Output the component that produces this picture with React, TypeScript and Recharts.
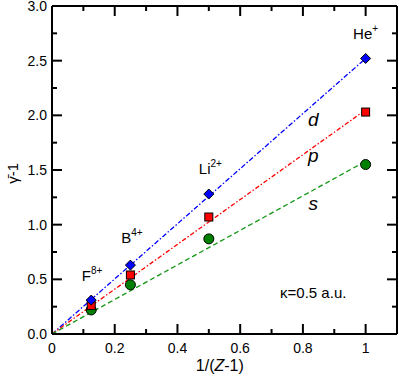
import { ComposedChart, Line, Scatter, XAxis, YAxis } from "recharts"

// 1/(Z-1) for F8+, B4+, Li2+, He+
const invZ = [0.125, 0.25, 0.5, 1]
const dValues = [0.31, 0.63, 1.28, 2.52]
const pValues = [0.26, 0.54, 1.07, 2.03]
const sValues = [0.22, 0.45, 0.87, 1.55]

// straight fits through the origin
const fitX = [0, 1]
const dFit = [0, 2.52]
const pFit = [0, 2.05]
const sFit = [0, 1.58]

const xMajorTicks = [0, 0.2, 0.4, 0.6, 0.8, 1]
const xMinorTicks = [0.1, 0.3, 0.5, 0.7, 0.9]
const yMajorTicks = [0, 0.5, 1, 1.5, 2, 2.5, 3]
const yMinorTicks = [0.25, 0.75, 1.25, 1.75, 2.25, 2.75]
const xTickLabels = ["0", "0.2", "0.4", "0.6", "0.8", "1"]

const ionNames = ["He", "Li", "B", "F"]
const ionCharges = ["+", "2+", "4+", "8+"]
const ionLabelX = [1.0, 0.505, 0.255, 0.128]
const ionLabelY = [2.7, 1.46, 0.835, 0.487]

const waveNames = ["d", "p", "s"]
const waveLabelX = [0.833, 0.833, 0.833]
const waveLabelY = [1.9, 1.57, 1.13]

const toPoints = (xs: number[], ys: number[]) => xs.map((x, i) => ({ x, y: ys[i] }))

const dData = toPoints(invZ, dValues)
const pData = toPoints(invZ, pValues)
const sData = toPoints(invZ, sValues)
const dLine = toPoints(fitX, dFit)
const pLine = toPoints(fitX, pFit)
const sLine = toPoints(fitX, sFit)
const ionData = ionNames.map((name, i) => ({ x: ionLabelX[i], y: ionLabelY[i], name, charge: ionCharges[i] }))
const waveData = waveNames.map((name, i) => ({ x: waveLabelX[i], y: waveLabelY[i], name }))
const kappaData = [{ x: 0.833, y: 0.333 }]
const xTitleData = [{ x: 0.535, y: 0 }]
const yTitleData = [{ x: 0, y: 1.47 }]

const FONT = "'Liberation Sans', Arial, Helvetica, sans-serif"

const isMajor = (v: number, list: number[]) => list.some((t) => Math.abs(t - v) < 1e-9)

function BottomTick(props: any) {
  const { x, y, payload } = props
  const major = isMajor(payload.value, xMajorTicks)
  const idx = xMajorTicks.findIndex((t) => Math.abs(t - payload.value) < 1e-9)
  return (
    <g>
      <line x1={x} x2={x} y1={y} y2={y - (major ? 10 : 5)} stroke="black" strokeWidth={2} />
      {major && (
        <text x={x} y={y + 19} textAnchor="middle" fontFamily={FONT} fontSize={14} fill="black">
          {xTickLabels[idx]}
        </text>
      )}
    </g>
  )
}

function TopTick(props: any) {
  const { x, y, payload } = props
  const major = isMajor(payload.value, xMajorTicks)
  return (
    <g>
      <line x1={x} x2={x} y1={y} y2={y + (major ? 10 : 5)} stroke="black" strokeWidth={2} />
    </g>
  )
}

function LeftTick(props: any) {
  const { x, y, payload } = props
  const major = isMajor(payload.value, yMajorTicks)
  return (
    <g>
      <line x1={x} x2={x + (major ? 10 : 5)} y1={y} y2={y} stroke="black" strokeWidth={2} />
      {major && (
        <text x={x - 5} y={y + 5} textAnchor="end" fontFamily={FONT} fontSize={14} fill="black">
          {payload.value.toFixed(1)}
        </text>
      )}
    </g>
  )
}

function RightTick(props: any) {
  const { x, y, payload } = props
  const major = isMajor(payload.value, yMajorTicks)
  return (
    <g>
      <line x1={x} x2={x - (major ? 10 : 5)} y1={y} y2={y} stroke="black" strokeWidth={2} />
    </g>
  )
}

function Diamond(props: any) {
  const { cx, cy } = props
  const h = 5
  return (
    <polygon
      points={`${cx},${cy - h} ${cx + h},${cy} ${cx},${cy + h} ${cx - h},${cy}`}
      fill="#0000ff"
      stroke="#000"
      strokeWidth={1}
    />
  )
}

function Square(props: any) {
  const { cx, cy } = props
  return <rect x={cx - 4} y={cy - 4} width={8} height={8} fill="#ff0000" stroke="#000" strokeWidth={1} />
}

function Dot(props: any) {
  const { cx, cy } = props
  return <circle cx={cx} cy={cy} r={5} fill="#008000" stroke="#000" strokeWidth={1} />
}

function IonLabel(props: any) {
  const { cx, cy, payload } = props
  return (
    <text x={cx} y={cy} textAnchor="middle" fontFamily={FONT} fontSize={15} fill="black">
      {payload.name}
      <tspan fontSize={10} dy={-7}>
        {payload.charge}
      </tspan>
    </text>
  )
}

function WaveLabel(props: any) {
  const { cx, cy, payload } = props
  return (
    <text x={cx} y={cy} textAnchor="middle" fontFamily={FONT} fontSize={19} fontStyle="italic" fill="black">
      {payload.name}
    </text>
  )
}

function KappaLabel(props: any) {
  const { cx, cy } = props
  return (
    <text x={cx} y={cy} textAnchor="middle" fontFamily={FONT} fontSize={15} fill="black">
      κ=0.5 a.u.
    </text>
  )
}

function XTitle(props: any) {
  const { cx, cy } = props
  return (
    <text x={cx} y={cy + 37} textAnchor="middle" fontFamily={FONT} fontSize={16} fill="black">
      1/(<tspan fontStyle="italic">Z</tspan>-1)
    </text>
  )
}

function YTitle(props: any) {
  const { cx, cy } = props
  const tx = cx - 34
  return (
    <text x={tx} y={cy} textAnchor="middle" transform={`rotate(-90 ${tx} ${cy})`} fontFamily={FONT} fontSize={15} fill="black">
      {"\u03B3\u0304-1"}
    </text>
  )
}

export default function App() {
  return (
    <div style={{ position: "absolute", left: 0, top: 0, background: "#fff" }}>
      <ComposedChart width={399} height={378} margin={{ top: 5, right: 1, left: 0, bottom: 0 }}>
        <XAxis xAxisId="b" type="number" dataKey="x" domain={[0, 1.1]} ticks={[...xMajorTicks, ...xMinorTicks]} interval={0} height={44} tickSize={0} tickMargin={0} tickLine={false} tick={<BottomTick />} axisLine={{ stroke: "black", strokeWidth: 2 }} />
        <XAxis xAxisId="t" orientation="top" type="number" dataKey="x" domain={[0, 1.1]} allowDataOverflow ticks={[...xMajorTicks, ...xMinorTicks]} interval={0} height={1} tickSize={0} tickMargin={0} tickLine={false} tick={<TopTick />} axisLine={{ stroke: "black", strokeWidth: 2 }} />
        <YAxis yAxisId="l" type="number" dataKey="y" domain={[0, 3]} ticks={[...yMajorTicks, ...yMinorTicks]} interval={0} width={52} tickSize={0} tickMargin={0} tickLine={false} tick={<LeftTick />} axisLine={{ stroke: "black", strokeWidth: 2 }} />
        <YAxis yAxisId="r" orientation="right" type="number" dataKey="y" domain={[0, 3]} allowDataOverflow ticks={[...yMajorTicks, ...yMinorTicks]} interval={0} width={1} tickSize={0} tickMargin={0} tickLine={false} tick={<RightTick />} axisLine={{ stroke: "black", strokeWidth: 2 }} />

        <Line xAxisId="b" yAxisId="l" data={dLine} dataKey="y" type="linear" stroke="#0000ff" strokeWidth={1.3} strokeDasharray="5 2 1.5 2" dot={false} activeDot={false} isAnimationActive={false} />
        <Line xAxisId="b" yAxisId="l" data={pLine} dataKey="y" type="linear" stroke="#ff0000" strokeWidth={1.3} strokeDasharray="4.5 2 1.5 2" dot={false} activeDot={false} isAnimationActive={false} />
        <Line xAxisId="b" yAxisId="l" data={sLine} dataKey="y" type="linear" stroke="#129612" strokeWidth={1.3} strokeDasharray="5 3" dot={false} activeDot={false} isAnimationActive={false} />

        <Scatter xAxisId="b" yAxisId="l" data={sData} dataKey="y" shape={<Dot />} isAnimationActive={false} />
        <Scatter xAxisId="b" yAxisId="l" data={pData} dataKey="y" shape={<Square />} isAnimationActive={false} />
        <Scatter xAxisId="b" yAxisId="l" data={dData} dataKey="y" shape={<Diamond />} isAnimationActive={false} />

        <Scatter xAxisId="t" yAxisId="r" data={ionData} dataKey="y" shape={<IonLabel />} isAnimationActive={false} />
        <Scatter xAxisId="t" yAxisId="r" data={waveData} dataKey="y" shape={<WaveLabel />} isAnimationActive={false} />
        <Scatter xAxisId="t" yAxisId="r" data={kappaData} dataKey="y" shape={<KappaLabel />} isAnimationActive={false} />
        <Scatter xAxisId="b" yAxisId="l" data={xTitleData} dataKey="y" shape={<XTitle />} isAnimationActive={false} />
        <Scatter xAxisId="b" yAxisId="l" data={yTitleData} dataKey="y" shape={<YTitle />} isAnimationActive={false} />
      </ComposedChart>
    </div>
  )
}
